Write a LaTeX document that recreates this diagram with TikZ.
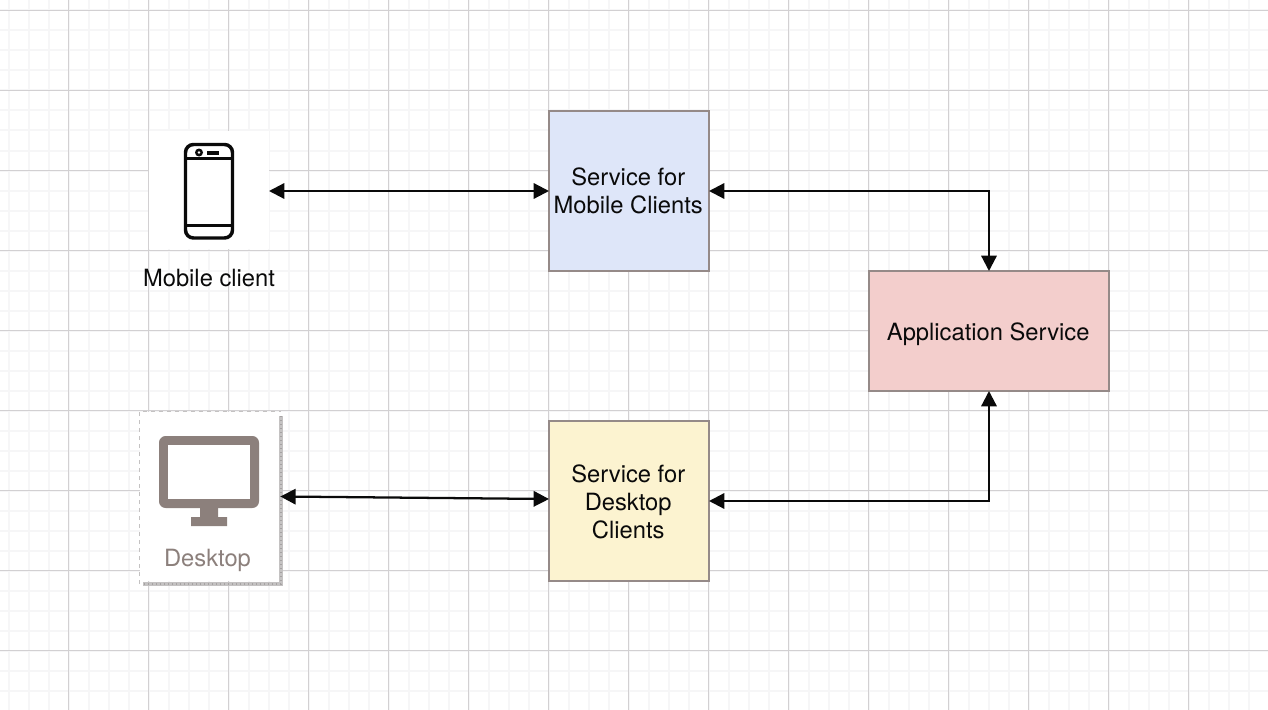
\documentclass[tikz,border=0pt]{standalone}
\usepackage{fontspec}
\setmainfont{TeX Gyre Heros}
\usetikzlibrary{arrows.meta,positioning}
\definecolor{minorgrid}{HTML}{F6F6F7}
\definecolor{majorgrid}{HTML}{D2D0D2}
\definecolor{edgegrey}{HTML}{958A88}
\definecolor{iconink}{HTML}{8C807C}
\definecolor{ink}{HTML}{0A0A0A}
\definecolor{bluefill}{HTML}{DEE6F9}
\definecolor{pinkfill}{HTML}{F3CECC}
\definecolor{yellowfill}{HTML}{FCF3D0}
\definecolor{shadowgrey}{HTML}{C4C2C2}
\definecolor{shadowdot}{HTML}{A5A2A2}
\tikzset{
  x=0.75pt,y=-0.75pt,
  svcbox/.style={draw=edgegrey,line width=1.5pt,inner sep=0pt,outer sep=0pt},
  svctext/.style={inner sep=0pt,align=center,text=ink,font=\fontsize{17.8pt}{21pt}\selectfont,xshift=-0.6pt},
  iconback/.style={fill=white,draw=none,inner sep=0pt,outer sep=0pt},
  iconlabel/.style={inner sep=0pt,font=\fontsize{17.8pt}{21pt}\selectfont},
  link/.style={draw=ink,line width=1.7pt,{Triangle[length=11.5pt,width=11.5pt]}-{Triangle[length=11.5pt,width=11.5pt]}},
}
\begin{document}
\begin{tikzpicture}
\useasboundingbox (0,0) rectangle (1268,710);
\fill[white] (0,0) rectangle (1268,710);
% grid
\foreach \i in {0,...,63} \draw[minorgrid,line width=1.5pt] ({8.5+20*\i},0) -- ({8.5+20*\i},710);
\foreach \i in {0,...,35} \draw[minorgrid,line width=1.5pt] (0,{10.5+20*\i}) -- (1268,{10.5+20*\i});
\foreach \i in {0,...,15} \draw[majorgrid,line width=0.9pt] ({68.5+80*\i},0) -- ({68.5+80*\i},710);
\foreach \i in {0,...,8} \draw[majorgrid,line width=0.9pt] (0,{10.5+80*\i}) -- (1268,{10.5+80*\i});
% mobile client
\node[iconback,minimum width=90pt,minimum height=89pt] (mobile) at (209,190) {};
\draw[ink,line width=2.6pt,rounded corners=6pt] (185.5,144.5) rectangle (232.5,238);
\draw[ink,line width=2.4pt] (185.5,158.5) -- (232.5,158.5);
\draw[ink,line width=2.4pt] (185.5,225.5) -- (232.5,225.5);
\fill[ink] (199,152.5) circle (3pt);
\fill[white] (199,152.5) circle (1pt);
\fill[ink] (207,150.5) rectangle (219,154.5);
\node[iconlabel,text=ink] (mobilelabel) at (209,278) {Mobile client};
% desktop
\node[iconback,minimum width=105.5pt,minimum height=127pt] (desktop) at (210,496.5) {};
\draw[shadowgrey,line width=3.4pt] (281,416) -- (281,584) -- (143,584);
\draw[shadowdot,line width=0.8pt,dash pattern=on 0.8pt off 2.2pt] (281,416) -- (281,584) -- (143,584);
\draw[shadowgrey,line width=1pt,dashed] (139.5,584) -- (139.5,411.5) -- (281,411.5);
\fill[iconink,rounded corners=5pt] (159,436) rectangle (259,508);
\fill[white] (168,445) rectangle (250,499);
\fill[iconink] (200,508) rectangle (218,518) (191,517) rectangle (227,526);
\node[iconlabel,text=iconink] (desktoplabel) at (207.5,560.5) {Desktop};
% services
\node[svcbox,fill=bluefill,minimum width=120pt,minimum height=120pt,
  label={[svctext]center:{Service for\\Mobile Clients}}] (svcmobile) at (629,191) {};
\node[svcbox,fill=yellowfill,minimum width=120pt,minimum height=120pt,
  label={[svctext,yshift=-0.75pt]center:{Service for\\Desktop\\Clients}}] (svcdesktop) at (629,501) {};
\node[svcbox,fill=pinkfill,minimum width=180pt,minimum height=90pt,
  label={[svctext,yshift=-2.2pt]center:{Application Service}}] (app) at (989,331) {};
% connectors
\draw[link] (mobile.east |- svcmobile.west) -- (svcmobile.west);
\draw[link] (desktop.east) -- ([yshift=1.5pt]svcdesktop.west);
\draw[link] (svcmobile.east) -| (app.north);
\draw[link] (svcdesktop.east) -| (app.south);
\end{tikzpicture}
\end{document}
